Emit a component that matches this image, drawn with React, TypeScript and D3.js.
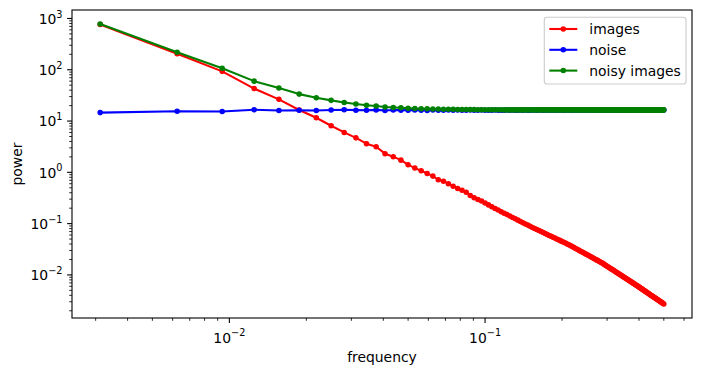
import React from 'react';
import * as d3 from 'd3';

// FFT bin frequencies (k / 320, k = 1..160)
const BIN_COUNT = 160;
const frequency: number[] = d3.range(1, BIN_COUNT + 1).map((k) => k / 320);

const images: number[] = [
  760, 205, 93, 43, 26.5, 16.4, 11.6, 8.1, 6.0, 4.7,
  3.62, 3.16, 2.31, 2.02, 1.73, 1.41, 1.21, 1.07, 0.953, 0.844,
  0.717, 0.673, 0.598, 0.537, 0.485, 0.449, 0.41, 0.354, 0.319, 0.296,
  0.275, 0.252, 0.232, 0.214, 0.198, 0.184, 0.171, 0.16, 0.15, 0.141,
  0.132, 0.124, 0.117, 0.11, 0.104, 0.0985, 0.0935, 0.0885, 0.0842, 0.0803,
  0.0766, 0.0732, 0.07, 0.067, 0.0641, 0.0614, 0.0589, 0.0566, 0.0543, 0.0522,
  0.0502, 0.0483, 0.0466, 0.0448, 0.0432, 0.0417, 0.0402, 0.0389, 0.0374, 0.0359,
  0.0345, 0.0332, 0.032, 0.0308, 0.0297, 0.0287, 0.0276, 0.0267, 0.0258, 0.0249,
  0.0241, 0.0233, 0.0225, 0.0218, 0.0211, 0.0204, 0.0198, 0.0192, 0.0186, 0.018,
  0.0175, 0.017, 0.0164, 0.01584, 0.01531, 0.01479, 0.0143, 0.01384, 0.01339, 0.01296,
  0.01255, 0.01215, 0.01178, 0.01141, 0.01106, 0.01073, 0.0104, 0.0101, 0.0098, 0.00951,
  0.00924, 0.00897, 0.00872, 0.00848, 0.00824, 0.00801, 0.00779, 0.00758, 0.00738, 0.00718,
  0.00699, 0.0068, 0.00663, 0.00645, 0.00629, 0.00612, 0.00596, 0.0058, 0.00565, 0.0055,
  0.00536, 0.00522, 0.00509, 0.00496, 0.00484, 0.00472, 0.0046, 0.00449, 0.00438, 0.00427,
  0.00417, 0.00407, 0.00398, 0.00388, 0.00379, 0.0037, 0.00362, 0.00353, 0.00345, 0.00338,
  0.0033, 0.00323, 0.00316, 0.00309, 0.00302, 0.00296, 0.00289, 0.00283, 0.00277, 0.00271,
];

const noise: number[] = [
  14.6, 15.5, 15.3, 16.6, 16.0, 16.2, 16.0, 16.4, 16.6, 16.3,
  16.2, 16.5, 16.1, 16.4, 16.3, 16.2, 16.5, 16.3, 16.1, 16.4,
  16.3, 16.2, 16.4, 16.3, 16.5, 16.2, 16.3, 16.4, 16.2, 16.3,
  16.4, 16.3, 16.2, 16.3, 16.4, 16.3, 16.3, 16.2, 16.4, 16.3,
  16.4, 16.3, 16.3, 16.4, 16.3, 16.4, 16.3, 16.3, 16.4, 16.4,
  16.3, 16.4, 16.4, 16.3, 16.4, 16.4, 16.3, 16.4, 16.4, 16.4,
  16.3, 16.4, 16.4, 16.4, 16.3, 16.4, 16.4, 16.4, 16.4, 16.3,
  16.4, 16.4, 16.4, 16.4, 16.4, 16.3, 16.4, 16.4, 16.4, 16.4,
  16.4, 16.4, 16.3, 16.4, 16.4, 16.4, 16.4, 16.4, 16.4, 16.4,
  16.4, 16.4, 16.4, 16.4, 16.3, 16.4, 16.4, 16.4, 16.4, 16.4,
  16.4, 16.4, 16.4, 16.4, 16.4, 16.4, 16.4, 16.4, 16.4, 16.4,
  16.4, 16.4, 16.4, 16.4, 16.4, 16.4, 16.4, 16.4, 16.4, 16.4,
  16.4, 16.4, 16.4, 16.4, 16.4, 16.4, 16.4, 16.4, 16.4, 16.4,
  16.4, 16.4, 16.4, 16.4, 16.4, 16.4, 16.4, 16.4, 16.4, 16.4,
  16.4, 16.4, 16.4, 16.4, 16.4, 16.4, 16.4, 16.4, 16.4, 16.4,
  16.4, 16.4, 16.4, 16.4, 16.4, 16.4, 16.4, 16.4, 16.4, 16.4,
];

const noisyImages: number[] = [
  780, 220, 107, 60, 44, 33.5, 28.4, 25.3, 23.0, 21.5,
  20.4, 19.6, 18.8, 18.4, 18.1, 17.8, 17.6, 17.4, 17.3, 17.2,
  17.1, 17.0, 16.95, 16.9, 16.85, 16.8, 16.75, 16.7, 16.7, 16.65,
  16.65, 16.6, 16.6, 16.55, 16.55, 16.55, 16.55, 16.5, 16.5, 16.5,
  16.5, 16.5, 16.5, 16.5, 16.5, 16.5, 16.5, 16.5, 16.5, 16.5,
  16.5, 16.5, 16.5, 16.5, 16.5, 16.5, 16.5, 16.5, 16.5, 16.5,
  16.5, 16.5, 16.5, 16.5, 16.5, 16.5, 16.5, 16.5, 16.5, 16.5,
  16.5, 16.5, 16.5, 16.5, 16.5, 16.5, 16.5, 16.5, 16.5, 16.5,
  16.5, 16.5, 16.5, 16.5, 16.5, 16.5, 16.5, 16.5, 16.5, 16.5,
  16.5, 16.5, 16.5, 16.5, 16.5, 16.5, 16.5, 16.5, 16.5, 16.5,
  16.5, 16.5, 16.5, 16.5, 16.5, 16.5, 16.5, 16.5, 16.5, 16.5,
  16.5, 16.5, 16.5, 16.5, 16.5, 16.5, 16.5, 16.5, 16.5, 16.5,
  16.5, 16.5, 16.5, 16.5, 16.5, 16.5, 16.5, 16.5, 16.5, 16.5,
  16.5, 16.5, 16.5, 16.5, 16.5, 16.5, 16.5, 16.5, 16.5, 16.5,
  16.5, 16.5, 16.5, 16.5, 16.5, 16.5, 16.5, 16.5, 16.5, 16.5,
  16.5, 16.5, 16.5, 16.5, 16.5, 16.5, 16.5, 16.5, 16.5, 16.5,
];

const seriesNames = ['images', 'noise', 'noisy images'];
const seriesColors = ['#ff0000', '#0000ff', '#008000'];
const seriesData = [images, noise, noisyImages];

const xMajorExps = [-2, -1];
const yMajorExps = [-2, -1, 0, 1, 2, 3];

const W = 702;
const H = 376;
const L = 72, R = 692, T = 10, B = 318;
const FONT = 'DejaVu Sans, sans-serif';
const FS = 13.9;

function logPadDomain(vals: number[]): [number, number] {
  const lg = vals.map(Math.log10);
  const lo = d3.min(lg)!;
  const hi = d3.max(lg)!;
  const p = (hi - lo) * 0.05;
  return [Math.pow(10, lo - p), Math.pow(10, hi + p)];
}

function minors(domain: [number, number]) {
  const out: number[] = [];
  for (let e = -5; e <= 4; e++) {
    for (let m = 2; m <= 9; m++) {
      const v = m * Math.pow(10, e);
      if (v >= domain[0] && v <= domain[1]) out.push(v);
    }
  }
  return out;
}

function Pow10({ e, x, y, anchor }: { e: number; x: number; y: number; anchor: string }) {
  const s = e < 0 ? '\u2212' + Math.abs(e) : String(e);
  return (
    <text x={x} y={y} textAnchor={anchor} fontFamily={FONT} fontSize={FS} fill="#000">
      10<tspan dy={-6.2} fontSize={FS * 0.7}>{s}</tspan>
    </text>
  );
}

export default function App() {
  const xDom = logPadDomain(frequency);
  const yDom = logPadDomain([...images, ...noise, ...noisyImages]);
  const x = d3.scaleLog().domain(xDom).range([L, R]);
  const y = d3.scaleLog().domain(yDom).range([B, T]);
  const line = d3
    .line<number>()
    .x((_, i) => x(frequency[i]))
    .y((d) => y(d));

  const xMin = minors(xDom);
  const yMin = minors(yDom);

  return (
    <svg width={W} height={H} style={{ position: 'absolute', left: 0, top: 0, background: '#fff' }}>
      <rect x={0} y={0} width={W} height={H} fill="#fff" />
      {seriesData.map((data, si) => (
        <g key={si}>
          <path d={line(data) || ''} fill="none" stroke={seriesColors[si]} strokeWidth={2.08} strokeLinejoin="round" />
          {data.map((v, i) => (
            <circle key={i} cx={x(frequency[i])} cy={y(v)} r={2.08} fill={seriesColors[si]} stroke={seriesColors[si]} strokeWidth={1.39} />
          ))}
        </g>
      ))}
      {/* spines */}
      <rect x={L} y={T} width={R - L} height={B - T} fill="none" stroke="#000" strokeWidth={1.1} />
      {/* x ticks */}
      {xMin.map((v, i) => (
        <line key={'xm' + i} x1={x(v)} x2={x(v)} y1={B} y2={B + 2.8} stroke="#000" strokeWidth={0.83} />
      ))}
      {xMajorExps.map((e) => (
        <g key={'xM' + e}>
          <line x1={x(Math.pow(10, e))} x2={x(Math.pow(10, e))} y1={B} y2={B + 4.9} stroke="#000" strokeWidth={1.1} />
          <Pow10 e={e} x={x(Math.pow(10, e))} y={342.5} anchor="middle" />
        </g>
      ))}
      {/* y ticks */}
      {yMin.map((v, i) => (
        <line key={'ym' + i} x1={L - 2.8} x2={L} y1={y(v)} y2={y(v)} stroke="#000" strokeWidth={0.83} />
      ))}
      {yMajorExps.map((e) => (
        <g key={'yM' + e}>
          <line x1={L - 4.9} x2={L} y1={y(Math.pow(10, e))} y2={y(Math.pow(10, e))} stroke="#000" strokeWidth={1.1} />
          <Pow10 e={e} x={62.5} y={y(Math.pow(10, e)) + 5.3} anchor="end" />
        </g>
      ))}
      {/* axis labels */}
      <text x={(L + R) / 2} y={362} textAnchor="middle" fontFamily={FONT} fontSize={FS}>frequency</text>
      <text transform={`translate(22,${(T + B) / 2}) rotate(-90)`} textAnchor="middle" fontFamily={FONT} fontSize={FS}>power</text>
      {/* legend */}
      <rect x={544.3} y={17.3} width={141.7} height={66.7} rx={2.8} fill="#fff" fillOpacity={0.8} stroke="#cccccc" strokeWidth={1.1} />
      {seriesNames.map((name, i) => {
        const cy = 29 + i * 20.8;
        return (
          <g key={name}>
            <line x1={549.3} x2={577.3} y1={cy} y2={cy} stroke={seriesColors[i]} strokeWidth={2.08} />
            <circle cx={563.3} cy={cy} r={2.08} fill={seriesColors[i]} stroke={seriesColors[i]} strokeWidth={1.39} />
            <text x={589.3} y={cy + 5} fontFamily={FONT} fontSize={FS}>{name}</text>
          </g>
        );
      })}
    </svg>
  );
}
